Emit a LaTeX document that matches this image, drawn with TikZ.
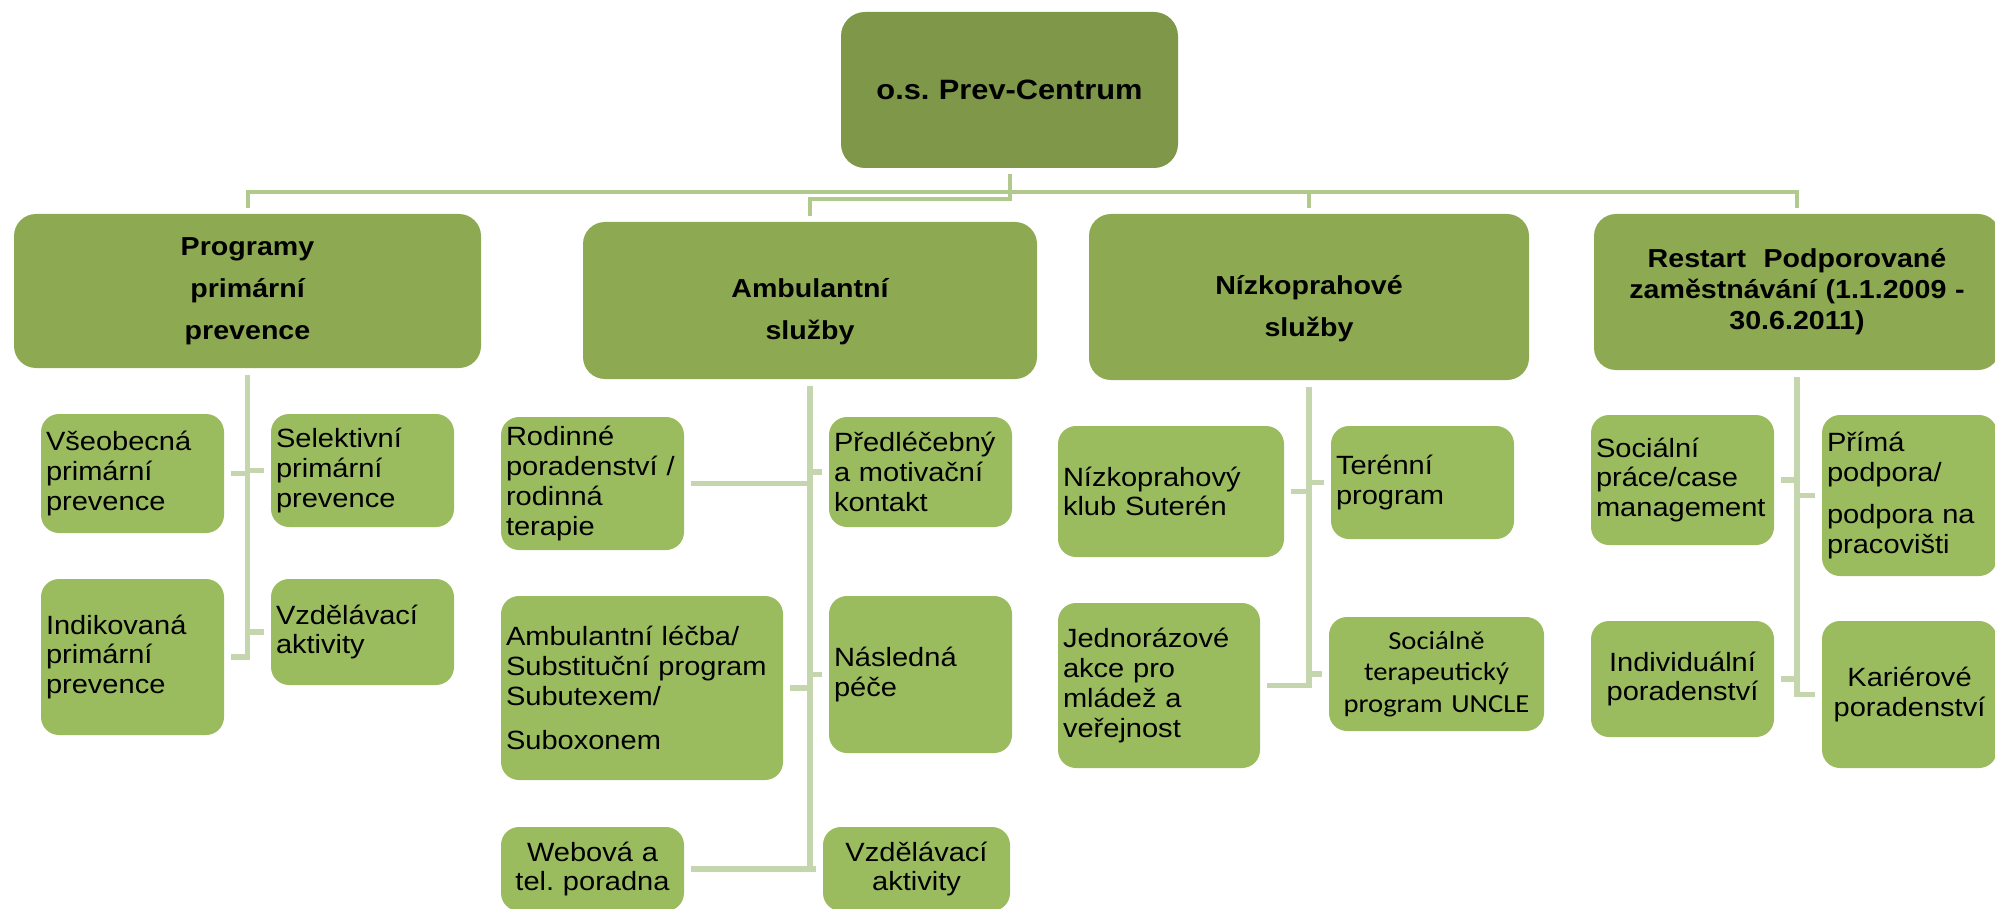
\documentclass[tikz,border=0pt]{standalone}
\usepackage{fontspec}
\setmainfont{Liberation Sans}[FakeStretch=1.1]
\newfontfamily\calibrifont{Carlito}[FakeStretch=1.1]
\usepackage{tikz}
\usetikzlibrary{positioning}
\usepackage{xcolor}
\definecolor{rootgreen}{HTML}{7E9749}
\definecolor{headgreen}{HTML}{8DAA52}
\definecolor{leafgreen}{HTML}{9BBB5F}
\definecolor{busgreen}{HTML}{B1C98A}
\definecolor{spinegreen}{HTML}{C5D6AE}

\tikzset{
  rootbox/.style={fill=rootgreen, rounded corners=12pt, align=center,
    inner xsep=2.5pt, inner ysep=0pt, font=\fontsize{14}{16}\selectfont\bfseries},
  headbox/.style={fill=headgreen, rounded corners=11pt, align=center,
    inner xsep=2.5pt, inner ysep=0pt, font=\fontsize{13}{21}\selectfont\bfseries},
  leafbox/.style={fill=leafgreen, rounded corners=9pt, align=left,
    inner xsep=2.5pt, inner ysep=0pt, font=\fontsize{13.2}{14.9}\selectfont},
  bus/.style={draw=busgreen, line width=2pt, shorten <=3pt, shorten >=3pt},
  spine/.style={draw=spinegreen, line width=2.6pt, shorten <=3.5pt, shorten >=3.5pt},
}

\begin{document}
\begin{tikzpicture}[x=0.5pt, y=-0.5pt]
	% Fix the page to the size of the chart.
	\clip (0,0) rectangle (1995,909);

	\node (root) at (1009.5,90) [rootbox, text width=163.5pt, minimum height=78pt] {o.s.\ Prev-Centrum};

	% The four departments.
	\node (prog) at (247.5,291) [headbox, text width=228.5pt, minimum height=77pt] {Programy\\primární\\prevence};
	\node (amb) at (810,300.5) [headbox, text width=222pt, minimum height=78.5pt] {\mbox{}\\Ambulantní\\služby};
	\node (nizko) at (1309,297) [headbox, text width=215pt, minimum height=83pt] {\mbox{}\\Nízkoprahové\\služby};
	\node (restart) at (1797,292) [headbox, text width=198pt, minimum height=78pt,
	  font=\fontsize{13}{15.5}\selectfont\bfseries] {Restart\ \ Podporované\\zaměstnávání (1.1.2009 -\\30.6.2011)};

	% Programy primarni prevence.
	\node (vse) at (132.5,473.5) [leafbox, text width=86.5pt, minimum height=59.5pt] {Všeobecná\\primární\\prevence};
	\node (sel) at (362.5,470.5) [leafbox, text width=86.5pt, minimum height=56.5pt] {Selektivní\\primární\\prevence};
	\node (ind) at (132.5,657) [leafbox, text width=86.5pt, minimum height=78pt] {Indikovaná\\primární\\prevence};
	\node (vzda) at (362.5,632) [leafbox, text width=86.5pt, minimum height=53pt] {Vzdělávací\\aktivity};

	% Ambulantni sluzby.
	\node (rod) at (592.5,483.5) [leafbox, text width=86.5pt, minimum height=66.5pt] {Rodinné\\poradenství /\\rodinná\\terapie};
	\node (pred) at (920.5,472) [leafbox, text width=86.5pt, minimum height=55pt] {Předléčebný\\a motivační\\kontakt};
	\node (lecba) at (642,688) [leafbox, text width=136pt, minimum height=92pt] {Ambulantní léčba/\\Substituční program\\Subutexem/\\[7pt]Suboxonem};
	\node (nasl) at (920.5,674.5) [leafbox, text width=86.5pt, minimum height=78.5pt] {Následná\\péče};
	\node (web) at (592.5,869) [leafbox, align=center, text width=86.5pt, minimum height=42pt] {Webová a\\tel.\ poradna};
	\node (vzdb) at (916.5,869) [leafbox, align=center, text width=88.5pt, minimum height=42pt] {Vzdělávací\\aktivity};

	% Nizkoprahove sluzby.
	\node (klub) at (1171,491.5) [leafbox, text width=108pt, minimum height=65.5pt] {Nízkoprahový\\klub Suterén};
	\node (teren) at (1422.5,482.5) [leafbox, text width=86.5pt, minimum height=56.5pt] {Terénní\\program};
	\node (jedn) at (1159,685.5) [leafbox, text width=96pt, minimum height=82.5pt] {Jednorázové\\akce pro\\mládež a\\veřejnost};
	\node (uncle) at (1436.5,674) [leafbox, align=center, text width=102.5pt, minimum height=57pt,
	  font=\calibrifont\fontsize{13}{15.75}\selectfont] {Sociálně\\terapeutický\\program UNCLE};

	% Restart.
	\node (soc) at (1682.5,480) [leafbox, text width=86.5pt, minimum height=65pt] {Sociální\\práce/case\\management};
	\node (prima) at (1909.5,495.5) [leafbox, text width=82.5pt, minimum height=80.5pt] {Přímá\\podpora/\\[6pt]podpora na\\pracovišti};
	\node (indiv) at (1682.5,679) [leafbox, align=center, text width=86.5pt, minimum height=58pt] {Individuální\\poradenství};
	\node (karier) at (1909.5,694.5) [leafbox, align=center, text width=82.5pt, minimum height=73.5pt] {Kariérové\\poradenství};

	% The bus under the root.
	\draw[bus] (root.south) -- ++(0,24) -| (prog.north);
	\draw[bus] (root.south) -- ++(0,24) -| (nizko.north);
	\draw[bus] (root.south) -- ++(0,24) -| (restart.north);
	\draw[bus] (root.south) -- ++(0,31) -| (amb.north);

	% Spines down to the programmes.
	\foreach \child in {vse,ind}
		\draw[spine] (prog.south) |- (\child.east);
	\foreach \child in {sel,vzda}
		\draw[spine] (prog.south) |- (\child.west);
	\foreach \child in {rod,lecba,web}
		\draw[spine] (amb.south) |- (\child.east);
	\foreach \child in {pred,nasl,vzdb}
		\draw[spine] (amb.south) |- (\child.west);
	\foreach \child in {klub,jedn}
		\draw[spine] (nizko.south) |- (\child.east);
	\foreach \child in {teren,uncle}
		\draw[spine] (nizko.south) |- (\child.west);
	\foreach \child in {soc,indiv}
		\draw[spine] (restart.south) |- (\child.east);
	\foreach \child in {prima,karier}
		\draw[spine] (restart.south) |- (\child.west);
\end{tikzpicture}
\end{document}
